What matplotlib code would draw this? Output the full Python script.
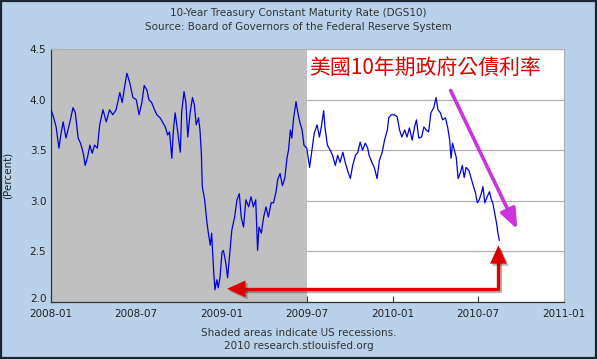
import matplotlib
matplotlib.use("Agg")
import matplotlib.pyplot as plt
import matplotlib.patheffects as pe
import matplotlib.transforms as mtransforms
from matplotlib.patches import Rectangle
import pandas as pd

# DGS10: days since 2008-01-01 and rate in percent
days = [0, 5, 12, 18, 22, 27, 33, 41, 48, 53, 59, 64, 70, 74, 79, 84, 89, 94, 100, 105,
        112, 119, 126, 133, 140, 148, 153, 158, 163, 169, 176, 183, 189, 195, 200, 206, 210,
        216, 222, 227, 234, 239, 245, 250, 254, 259, 262, 266, 271, 277, 280, 285, 289, 293,
        298, 303, 307, 311, 316, 319, 322, 324, 329, 334, 337, 341, 344, 348, 351, 355, 358,
        362, 366, 369, 374, 378, 382, 387, 393, 398, 403, 407, 412, 417, 423, 428, 433, 438,
        442, 445, 450, 455, 460, 465, 471, 476, 481, 485, 490, 495, 500, 505, 508, 512, 515,
        519, 524, 528, 532, 537, 541, 547, 553, 558, 563, 569, 574, 578, 583, 586, 591, 597,
        602, 608, 613, 618, 624, 629, 634, 640, 645, 651, 656, 661, 666, 672, 677, 680, 686,
        691, 697, 702, 708, 713, 719, 722, 727, 734, 740, 745, 750, 756, 761, 766, 772, 777,
        781, 786, 792, 797, 802, 807, 812, 818, 823, 827, 832, 837, 843, 848, 852, 855, 858,
        863, 866, 870, 875, 879, 883, 887, 893, 898, 903, 907, 911, 915, 920, 923, 927, 932,
        937, 941, 944, 948, 952, 955, 958]
rate = [3.91, 3.85, 3.73, 3.52, 3.65, 3.78, 3.62, 3.77, 3.92, 3.87, 3.62, 3.57, 3.47, 3.35,
        3.43, 3.55, 3.47, 3.55, 3.52, 3.75, 3.90, 3.78, 3.90, 3.85, 3.90, 4.07, 3.97, 4.12,
        4.26, 4.17, 4.02, 4.00, 3.85, 3.97, 4.14, 4.09, 4.00, 3.97, 3.90, 3.85, 3.82, 3.78,
        3.73, 3.65, 3.68, 3.42, 3.68, 3.87, 3.70, 3.48, 3.88, 4.08, 3.97, 3.63, 3.87, 4.02,
        3.95, 3.75, 3.82, 3.70, 3.47, 3.14, 3.01, 2.78, 2.68, 2.56, 2.68, 2.32, 2.12, 2.22,
        2.14, 2.25, 2.49, 2.51, 2.39, 2.24, 2.45, 2.71, 2.84, 3.01, 3.07, 2.84, 2.74, 3.01,
        2.94, 3.04, 2.94, 3.01, 2.51, 2.74, 2.68, 2.84, 2.94, 2.84, 2.98, 2.98, 3.08, 3.21,
        3.27, 3.15, 3.22, 3.43, 3.50, 3.70, 3.62, 3.82, 3.98, 3.87, 3.78, 3.70, 3.55, 3.52,
        3.33, 3.50, 3.67, 3.75, 3.63, 3.73, 3.89, 3.72, 3.55, 3.50, 3.45, 3.35, 3.45, 3.38,
        3.48, 3.38, 3.30, 3.22, 3.35, 3.45, 3.48, 3.58, 3.50, 3.57, 3.52, 3.45, 3.38, 3.33,
        3.22, 3.40, 3.48, 3.60, 3.70, 3.82, 3.85, 3.85, 3.83, 3.70, 3.63, 3.70, 3.63, 3.72,
        3.60, 3.73, 3.80, 3.62, 3.63, 3.73, 3.70, 3.68, 3.87, 3.92, 4.02, 3.90, 3.87, 3.80,
        3.82, 3.72, 3.60, 3.42, 3.57, 3.48, 3.43, 3.22, 3.28, 3.35, 3.23, 3.33, 3.30, 3.22,
        3.14, 3.08, 2.98, 3.01, 3.08, 3.14, 2.98, 3.04, 3.09, 3.01, 2.98, 2.88, 2.78, 2.68,
        2.61]

recession = ("2008-01-01", "2009-07-01")
xticks = ["2008-01", "2008-07", "2009-01", "2009-07", "2010-01", "2010-07", "2011-01"]
yticks = [2.0, 2.5, 3.0, 3.5, 4.0, 4.5]

BG = "#b9d2e9"
TXT = "#222222"

dates = pd.Timestamp("2008-01-01") + pd.to_timedelta(days, unit="D")

fig = plt.figure(figsize=(5.97, 3.59), dpi=100, facecolor=BG)
ax = fig.add_axes([0.0846, 0.1588, 0.8601, 0.7047])
ax.set_facecolor("white")

ax.axvspan(pd.Timestamp(recession[0]), pd.Timestamp(recession[1]), color="#c0c0c0", zorder=1, lw=0)
ax.plot(dates, rate, color="#0000e0", lw=0.9, zorder=3)

ax.set_xlim(pd.Timestamp("2008-01-01"), pd.Timestamp("2011-01-01"))
ax.set_ylim(2.0, 4.5)
ax.set_xticks([pd.Timestamp(t) for t in xticks])
ax.set_xticklabels(xticks)
ax.set_yticks(yticks)
ax.set_yticklabels([f"{v:.1f}" for v in yticks])
ax.tick_params(direction="in", length=4, width=0.8, color="#333", labelsize=7.5,
               labelcolor=TXT, pad=3)
ax.tick_params(axis="x", pad=5)
# nudge the bottom y label up so it sits above the first date label
lbl0 = ax.get_yticklabels()[0]
lbl0.set_transform(lbl0.get_transform() + mtransforms.ScaledTranslation(0, 3 / 72, fig.dpi_scale_trans))
ax.grid(axis="y", color="#b0b0b0", lw=0.9, zorder=0.5)
ax.set_axisbelow(True)
for s in ("left", "bottom"):
    ax.spines[s].set_color("#333")
    ax.spines[s].set_linewidth(0.9)
for s in ("top", "right"):
    ax.spines[s].set_color("#b0b0b0")
ax.set_ylabel("(Percent)", fontsize=7.5, color=TXT, labelpad=12)

fig.text(0.5, 0.965, "10-Year Treasury Constant Maturity Rate (DGS10)",
         ha="center", va="center", fontsize=7.5, color="#333")
fig.text(0.5, 0.925, "Source: Board of Governors of the Federal Reserve System",
         ha="center", va="center", fontsize=7.5, color="#333")
fig.text(0.5, 0.073, "Shaded areas indicate US recessions.",
         ha="center", va="center", fontsize=7.5, color="#333")
fig.text(0.5, 0.035, "2010 research.stlouisfed.org",
         ha="center", va="center", fontsize=7.5, color="#333")

# annotations added on top of the FRED graph
ax.text(pd.Timestamp("2009-07-06"), 4.31, "美國10年期政府公債利率",
        family=["Noto Sans CJK TC", "DejaVu Sans"], fontsize=15, color="#e00000",
        ha="left", va="center", zorder=5)

line_shadow = [pe.SimpleLineShadow(offset=(1.5, -1.5), alpha=0.3), pe.Normal()]
head_shadow = [pe.SimplePatchShadow(offset=(1.5, -1.5), alpha=0.3), pe.Normal()]

ax.annotate("", xy=(pd.Timestamp("2010-09-23"), 2.72), xytext=(pd.Timestamp("2010-05-04"), 4.09),
            arrowprops=dict(arrowstyle="-|>,head_length=1.0,head_width=0.4",
                            color="#cc33dd", lw=2.6, mutation_scale=12,
                            shrinkA=0, shrinkB=0, path_effects=head_shadow), zorder=6)

# red elbow: from the 2008-12 low across to the latest value
low_x, low_y = pd.Timestamp("2009-01-12"), 2.13
end_x, end_y = pd.Timestamp("2010-08-14"), 2.56
ax.plot([pd.Timestamp("2009-01-25"), end_x, end_x], [low_y, low_y, end_y - 0.08],
        color="#dd0000", lw=2.4, solid_capstyle="butt", zorder=6, path_effects=line_shadow)
ax.annotate("", xy=(low_x, low_y), xytext=(pd.Timestamp("2009-01-28"), low_y),
            arrowprops=dict(arrowstyle="-|>,head_length=1.1,head_width=0.5", color="#dd0000",
                            lw=0, mutation_scale=12, shrinkA=0, shrinkB=0,
                            path_effects=head_shadow), zorder=6)
ax.annotate("", xy=(end_x, end_y), xytext=(end_x, end_y - 0.12),
            arrowprops=dict(arrowstyle="-|>,head_length=1.1,head_width=0.5", color="#dd0000",
                            lw=0, mutation_scale=12, shrinkA=0, shrinkB=0,
                            path_effects=head_shadow), zorder=6)

fig.add_artist(Rectangle((0.002, 0.003), 0.996, 0.994, transform=fig.transFigure,
                         fill=False, edgecolor="#1c2633", lw=1.6))

fig.savefig("out.png", facecolor=BG)
